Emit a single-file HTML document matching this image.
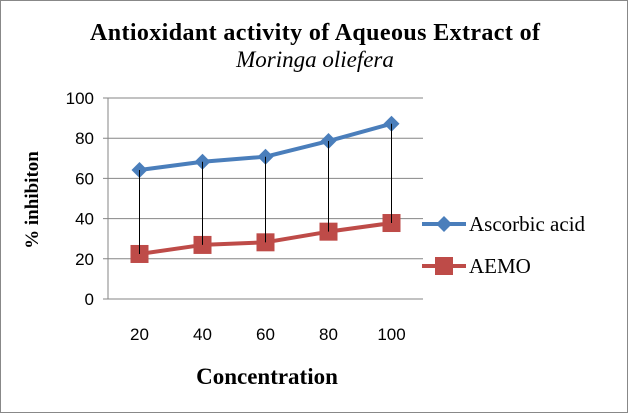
<!DOCTYPE html>
<html><head><meta charset="utf-8"><style>
html,body{margin:0;padding:0;background:#fff}
svg{display:block}
</style></head><body>
<svg id="chart" width="628" height="413" xmlns="http://www.w3.org/2000/svg">
<rect x="0.5" y="0.5" width="627" height="412" fill="#fff" stroke="#888"/>
<text x="315" y="40" text-anchor="middle" font-family="Liberation Serif, serif" font-weight="bold" font-size="24" textLength="450">Antioxidant activity of Aqueous Extract of</text>
<text x="315" y="67" text-anchor="middle" font-family="Liberation Serif, serif" font-style="italic" font-size="23">Moringa oliefera</text>
<text transform="translate(38,200) rotate(-90)" text-anchor="middle" font-family="Liberation Serif, serif" font-weight="bold" font-size="19">% inhibiton</text>
<text x="267" y="384" text-anchor="middle" font-family="Liberation Serif, serif" font-weight="bold" font-size="23">Concentration</text>
<g id="grid"></g><g id="drops"></g><g id="series"></g>
<g>
<line x1="422" y1="224" x2="466" y2="224" stroke="#4a7ebb" stroke-width="4"/>
<path d="M444 216 L452 224 L444 232 L436 224 Z" fill="#4a7ebb"/>
<text x="469" y="231" font-family="Liberation Serif, serif" font-size="21">Ascorbic acid</text>
<line x1="422" y1="266" x2="466" y2="266" stroke="#be4b48" stroke-width="4"/>
<rect x="435" y="257" width="18" height="18" fill="#be4b48"/>
<text x="469" y="273" font-family="Liberation Serif, serif" font-size="21">AEMO</text>
</g>
</svg>
<script>
const categories=["20","40","60","80","100"];
const ascorbic=[64.2,68.3,70.8,78.6,87.2];
const aemo=[22.4,26.9,28.2,33.5,37.8];
const yTicks=[0,20,40,60,80,100];
const NS="http://www.w3.org/2000/svg";
const L=108,R=423,T=98,B=299;
const xs=i=>L+(R-L)/categories.length*(i+0.5);
const ys=v=>B-(B-T)*v/100;
function mk(tag,attrs,parent){const e=document.createElementNS(NS,tag);for(const k in attrs)e.setAttribute(k,attrs[k]);parent.appendChild(e);return e;}
const grid=document.getElementById('grid');
yTicks.forEach(t=>{
 const l=mk('line',{x1:L-5,x2:R,y1:ys(t),y2:ys(t),stroke:'#868686','stroke-width':1},grid);
 
 
 const tx=mk('text',{x:L-14,y:ys(t)+6,'text-anchor':'end','font-family':'Liberation Sans, sans-serif','font-size':17},grid);
 tx.textContent=t;
 
 
});
const ax=mk('line',{x1:L,x2:L,y1:T,y2:B,stroke:'#868686'},grid);


categories.forEach((c,i)=>{
 const tx=mk('text',{x:xs(i),y:340,'text-anchor':'middle','font-family':'Liberation Sans, sans-serif','font-size':17},grid);
 tx.textContent=c;
 
 
});
const drops=document.getElementById('drops');
categories.forEach((c,i)=>{
 const l=mk('line',{x1:xs(i),x2:xs(i),y1:ys(ascorbic[i]),y2:ys(aemo[i]),stroke:'#000','stroke-width':1},drops);
 
 
});
const s=document.getElementById('series');
function line(vals,color,name){
 const p=mk('polyline',{points:vals.map((v,i)=>xs(i)+','+ys(v)).join(' '),fill:'none',stroke:color,'stroke-width':4,'stroke-linejoin':'round'},s);
 
 
}
line(ascorbic,'#4a7ebb','ascorbic');
line(aemo,'#be4b48','aemo');
ascorbic.forEach((v,i)=>{
 const x=xs(i),y=ys(v);
 const m=mk('path',{d:`M${x} ${y-8} L${x+8} ${y} L${x} ${y+8} L${x-8} ${y} Z`,fill:'#4a7ebb'},s);
 
 
});
aemo.forEach((v,i)=>{
 const x=xs(i),y=ys(v);
 const m=mk('rect',{x:x-9,y:y-9,width:18,height:18,fill:'#be4b48'},s);
 
 
});
drops.parentNode.appendChild(drops);
</script>
</body></html>
